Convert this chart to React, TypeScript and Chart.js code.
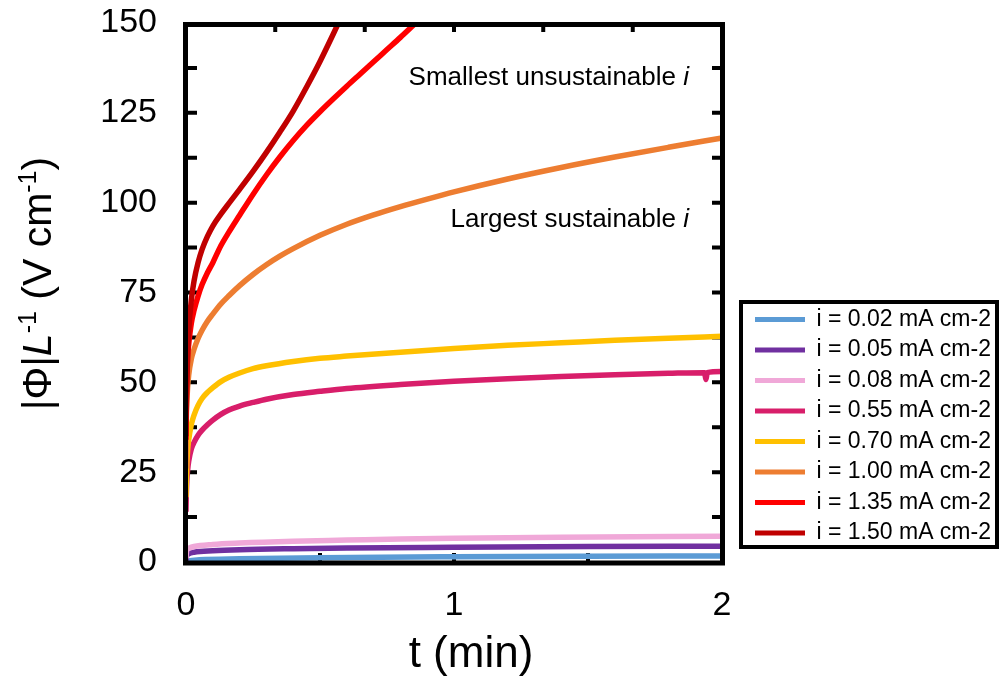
import React, { useEffect, useRef } from 'react';
import { Chart, registerables } from 'chart.js';

Chart.register(...registerables);

const FONT = "'Liberation Sans', Arial, Helvetica, sans-serif";

// ---- legend / series ----
const seriesLabels = [
  'i = 0.02 mA cm-2',
  'i = 0.05 mA cm-2',
  'i = 0.08 mA cm-2',
  'i = 0.55 mA cm-2',
  'i = 0.70 mA cm-2',
  'i = 1.00 mA cm-2',
  'i = 1.35 mA cm-2',
  'i = 1.50 mA cm-2',
];
const seriesColors = ['#5B9BD5', '#7030A0', '#F0A8D8', '#D81E6A', '#FFC000', '#ED7D31', '#FF0000', '#C00000'];

// ---- data (t in min, |Phi|/L in V/cm) ----
const t002 = [0, 0.01, 0.05, 0.2, 0.5, 1.0, 1.5, 2.0];
const v002 = [0, 0.3, 0.6, 0.9, 1.2, 1.45, 1.6, 1.7];

const t005 = [0, 0.002, 0.01, 0.03, 0.1, 0.2, 0.4, 0.6, 1.0, 1.5, 2.0];
const v005 = [0.3, 1.6, 2.3, 2.7, 3.1, 3.4, 3.7, 3.9, 4.1, 4.3, 4.4];

const t008 = [0, 0.002, 0.01, 0.03, 0.1, 0.2, 0.4, 0.6, 0.8, 1.0, 1.4, 2.0];
const v008 = [1.0, 3.0, 3.8, 4.3, 4.9, 5.3, 5.8, 6.1, 6.4, 6.6, 6.9, 7.2];

const t055 = [0, 0.001, 0.003, 0.006, 0.01, 0.02, 0.03, 0.045, 0.06, 0.08, 0.1, 0.13, 0.16, 0.2, 0.25, 0.3, 0.4, 0.5, 0.6, 0.8, 1.0, 1.2, 1.4, 1.6, 1.8, 1.935, 1.94, 1.945, 2.0];
const v055 = [14, 18, 22.5, 25.5, 28, 31.5, 33.3, 35.3, 36.7, 38.2, 39.5, 41.1, 42.3, 43.4, 44.4, 45.3, 46.6, 47.5, 48.3, 49.4, 50.3, 51, 51.6, 52.1, 52.5, 52.7, 50.8, 52.7, 53];

const t070 = [0, 0.001, 0.003, 0.006, 0.01, 0.02, 0.03, 0.045, 0.06, 0.08, 0.1, 0.13, 0.16, 0.2, 0.25, 0.3, 0.4, 0.5, 0.6, 0.8, 1.0, 1.2, 1.4, 1.6, 1.8, 2.0];
const v070 = [18, 22, 27, 31, 34, 38.3, 40.9, 43.6, 45.5, 47.2, 48.5, 50.2, 51.4, 52.6, 53.8, 54.6, 55.8, 56.7, 57.3, 58.4, 59.4, 60.3, 61, 61.7, 62.3, 62.8];

const t100 = [0, 0.001, 0.003, 0.006, 0.01, 0.02, 0.03, 0.045, 0.06, 0.08, 0.1, 0.13, 0.16, 0.2, 0.25, 0.3, 0.35, 0.4, 0.5, 0.6, 0.7, 0.8, 0.9, 1.0, 1.2, 1.4, 1.6, 1.8, 2.0];
const v100 = [26, 38, 44, 48.6, 52, 56.6, 59.2, 62.2, 64.5, 67, 69, 71.8, 74.1, 76.9, 80, 82.7, 85.1, 87.2, 90.9, 94, 96.6, 98.9, 101, 103, 106.6, 109.8, 112.7, 115.4, 118];

const t135 = [0, 0.001, 0.003, 0.006, 0.01, 0.02, 0.03, 0.045, 0.06, 0.08, 0.1, 0.13, 0.16, 0.2, 0.25, 0.3, 0.35, 0.4, 0.45, 0.5, 0.55, 0.6, 0.65, 0.7, 0.75, 0.8, 0.85, 0.9];
const v135 = [34, 45, 52, 57, 60.5, 66.5, 70, 74, 77.2, 80.5, 83.3, 88, 91.8, 96.5, 102.3, 107.7, 112.7, 117.3, 121.5, 125.3, 128.9, 132.4, 135.8, 139.2, 142.6, 146, 149.5, 153];

const t150 = [0, 0.001, 0.003, 0.006, 0.01, 0.02, 0.03, 0.045, 0.06, 0.08, 0.1, 0.13, 0.16, 0.2, 0.25, 0.3, 0.35, 0.4, 0.45, 0.5, 0.55, 0.6];
const v150 = [35, 42, 49, 57.7, 64.2, 73, 78.2, 83.3, 87, 90.6, 93.5, 96.8, 99.8, 103.7, 108.7, 114, 119.6, 125.5, 132.2, 139.3, 147, 155];

const seriesT = [t002, t005, t008, t055, t070, t100, t135, t150];
const seriesV = [v002, v005, v008, v055, v070, v100, v135, v150];

// ---- axes ----
const xMin = 0, xMax = 2, xStep = 1;
const yMin = 0, yMax = 150, yStep = 25;
const sideTickValues = [12.5, 25, 37.5, 50, 62.5, 75, 87.5, 100, 112.5, 125, 137.5];
const topTickMinutes = [0.333, 0.667, 1, 1.333, 1.667];
const bottomTickMinutes = [0.5, 1, 1.5];
const xTitle = 't (min)';
const annotationTop = 'Smallest unsustainable ';
const annotationBottom = 'Largest sustainable ';
const annotationItalic = 'i';

const decorPlugin = {
  id: 'decor',
  beforeDraw(chart: any) {
    const lg = chart.legend;
    const ca = chart.chartArea;
    if (lg && ca) {
      lg.left = ca.right + 25.5;
      lg.bottom = ca.bottom - 10;
    }
  },
  beforeDatasetsDraw(chart: any) {
    const { ctx, chartArea: ca, scales } = chart;
    const xs = scales.x, ys = scales.y;
    ctx.save();
    ctx.strokeStyle = '#000';
    ctx.lineWidth = 4;
    ctx.beginPath();
    for (const v of sideTickValues) {
      const y = ys.getPixelForValue(v);
      ctx.moveTo(ca.left, y); ctx.lineTo(ca.left + 11, y);
      ctx.moveTo(ca.right - 10, y); ctx.lineTo(ca.right, y);
    }
    for (const m of topTickMinutes) {
      const x = xs.getPixelForValue(m);
      ctx.moveTo(x, ca.top); ctx.lineTo(x, ca.top + 9);
    }
    for (const m of bottomTickMinutes) {
      const x = xs.getPixelForValue(m);
      ctx.moveTo(x, ca.bottom); ctx.lineTo(x, ca.bottom - 9);
    }
    ctx.stroke();
    ctx.restore();
  },
  afterDatasetsDraw(chart: any) {
    const { ctx, chartArea: ca } = chart;
    ctx.save();
    ctx.strokeStyle = '#000';
    ctx.lineWidth = 5;
    ctx.lineJoin = 'miter';
    ctx.strokeRect(ca.left - 0.5, ca.top + 1.5, ca.right - ca.left + 1, ca.bottom - ca.top - 0.5);
    ctx.restore();
  },
  afterDraw(chart: any) {
    const { ctx, chartArea: ca } = chart;
    ctx.save();
    ctx.fillStyle = '#000';
    ctx.textBaseline = 'alphabetic';

    // y-axis title with italic L and superscripts
    const big = `41px ${FONT}`;
    const ital = `italic 41px ${FONT}`;
    const sup = `25px ${FONT}`;
    const parts = [
      { t: '|Φ|', f: big, dy: 0 },
      { t: 'L', f: ital, dy: 0 },
      { t: '-1', f: sup, dy: -15 },
      { t: ' (V cm', f: big, dy: 0 },
      { t: '-1', f: sup, dy: -15 },
      { t: ')', f: big, dy: 0 },
    ];
    let total = 0;
    const widths = parts.map((p) => { ctx.font = p.f; const w = ctx.measureText(p.t).width; total += w; return w; });
    ctx.translate(51, (ca.top + ca.bottom) / 2 - 9);
    ctx.rotate(-Math.PI / 2);
    let cx = -total / 2;
    parts.forEach((p, i) => { ctx.font = p.f; ctx.textAlign = 'left'; ctx.fillText(p.t, cx, p.dy); cx += widths[i]; });
    ctx.setTransform(1, 0, 0, 1, 0, 0);
    ctx.restore();

    ctx.save();
    ctx.fillStyle = '#000';
    ctx.textBaseline = 'alphabetic';
    // x-axis title
    ctx.font = `44px ${FONT}`;
    ctx.textAlign = 'center';
    ctx.fillText(xTitle, (ca.left + ca.right) / 2 + 17, 667);

    // annotations (right aligned)
    const drawAnn = (main: string, baseY: number) => {
      ctx.font = `italic 26px ${FONT}`;
      const wi = ctx.measureText(annotationItalic).width;
      ctx.font = `26px ${FONT}`;
      const wm = ctx.measureText(main).width;
      const right = ca.right - 33;
      ctx.textAlign = 'left';
      ctx.fillText(main, right - wi - wm, baseY);
      ctx.font = `italic 26px ${FONT}`;
      ctx.fillText(annotationItalic, right - wi, baseY);
    };
    drawAnn(annotationTop, ca.top + 62);
    drawAnn(annotationBottom, ca.top + 204);

    // legend border
    const lg = chart.legend;
    if (lg && lg.columnSizes && lg.columnSizes[0]) {
      const firstTop = lg.bottom - lg.columnSizes[0].height;
      ctx.strokeStyle = '#000';
      ctx.lineWidth = 4;
      const l = lg.left - 6.5, r = chart.width - 4, t = firstTop - 6, b = lg.bottom - 5;
      ctx.strokeRect(l, t, r - l, b - t);
    }
    ctx.restore();
  },
};

export default function App() {
  const ref = useRef<HTMLCanvasElement>(null);
  useEffect(() => {
    if (!ref.current) return;
    Chart.defaults.font.family = FONT;
    const datasets = seriesT.map((ts, k) => ({
      label: seriesLabels[k],
      data: ts.map((x, j) => ({ x, y: seriesV[k][j] })),
      borderColor: seriesColors[k],
      backgroundColor: seriesColors[k],
      borderWidth: 5.5,
      pointRadius: 0,
      pointHoverRadius: 0,
      cubicInterpolationMode: 'monotone' as const,
      fill: false,
      order: -k,
      clip: { left: 3, right: 3, top: 0, bottom: 3 },
    }));
    const chart = new Chart(ref.current, {
      type: 'line',
      data: { datasets },
      options: {
        animation: false,
        responsive: true,
        maintainAspectRatio: false,
        events: [],
        layout: { padding: { top: 23, right: 0, bottom: 0, left: 0 } },
        scales: {
          x: {
            type: 'linear',
            position: 'bottom',
            min: xMin,
            max: xMax,
            ticks: { stepSize: xStep, color: '#000', font: { size: 34, family: FONT }, padding: 0, maxRotation: 0 },
            grid: { display: false, drawTicks: true, tickLength: 23 },
            border: { display: false },
            afterFit: (s: any) => { s.height = 120; },
          },
          y: {
            type: 'linear',
            position: 'left',
            min: yMin,
            max: yMax,
            ticks: { stepSize: yStep, color: '#000', font: { size: 34, family: FONT }, padding: 0 },
            grid: { display: false, drawTicks: true, tickLength: 29 },
            border: { display: false },
            afterFit: (s: any) => { s.width = 186; },
          },
          yPad: {
            type: 'linear',
            position: 'right',
            display: true,
            ticks: { display: false },
            grid: { display: false, drawTicks: false },
            border: { display: false },
            afterFit: (s: any) => { s.width = 79; },
          },
        },
        plugins: {
          tooltip: { enabled: false },
          legend: {
            display: true,
            position: 'right',
            align: 'end',
            fullSize: false,
            maxWidth: 200,
            labels: {
              boxWidth: 50,
              boxHeight: 5,
              padding: 7.5,
              color: '#000',
              font: { size: 23, family: FONT },
              useBorderRadius: true,
              borderRadius: 2.5,
              generateLabels: (c: any) =>
                c.data.datasets.map((ds: any, i: number) => ({
                  text: ds.label,
                  fillStyle: ds.borderColor,
                  strokeStyle: ds.borderColor,
                  lineWidth: 0,
                  hidden: false,
                  datasetIndex: i,
                  fontColor: '#000',
                })),
            },
          },
        },
      },
      plugins: [decorPlugin],
    } as any);
    return () => chart.destroy();
  }, []);
  return (
    <div style={{ position: 'fixed', left: 0, top: 0, width: 1001, height: 682, background: '#fff' }}>
      <canvas ref={ref} />
    </div>
  );
}
